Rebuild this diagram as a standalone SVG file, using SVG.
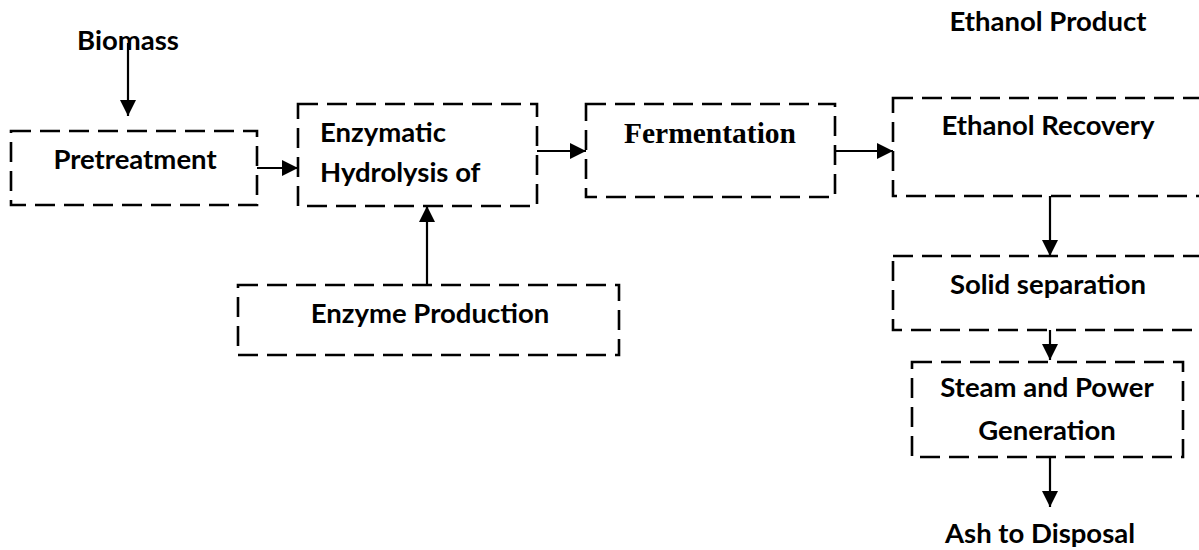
<svg xmlns="http://www.w3.org/2000/svg" width="1199" height="550" viewBox="0 0 1199 550">
<style>
.box{fill:none;stroke:#000;stroke-width:2.6;stroke-dasharray:20 9}
.t{font-family:Lato,"Liberation Sans",sans-serif;font-weight:bold;font-size:27.5px;fill:#000}
.c{text-anchor:middle}
.s{font-family:"Liberation Serif",serif;font-weight:bold;font-size:29.5px;fill:#000}
.ln{fill:none;stroke:#000;stroke-width:2.2}
</style>
<defs>
<marker id="ah" viewBox="0 0 16 16" refX="16" refY="8" markerWidth="16" markerHeight="16" markerUnits="userSpaceOnUse" orient="auto">
<path d="M0,0 L16,8 L0,16 Z" fill="#000"/>
</marker>
</defs>
<rect width="1199" height="550" fill="#fff"/>
<g id="labels">
<text class="t c" x="128" y="50">Biomass</text>
<text class="t c" x="1048" y="31">Ethanol Product</text>
<text class="t c" x="1040" y="543">Ash to Disposal</text>
</g>
<g id="pretreatment">
<rect class="box" x="11" y="131" width="246" height="74"/>
<text class="t c" x="135" y="169">Pretreatment</text>
</g>
<g id="hydrolysis">
<rect class="box" x="298" y="104" width="239" height="102"/>
<text class="t" x="320" y="142">Enzymatic</text>
<text class="t" x="320" y="182">Hydrolysis of</text>
</g>
<g id="fermentation">
<rect class="box" x="586" y="104" width="249" height="93"/>
<text class="s c" x="710" y="143">Fermentation</text>
</g>
<g id="recovery">
<rect class="box" x="893" y="98" width="330" height="98"/>
<text class="t c" x="1048" y="135">Ethanol Recovery</text>
</g>
<g id="enzyme">
<rect class="box" x="238" y="285" width="381" height="70"/>
<text class="t c" x="430" y="323">Enzyme Production</text>
</g>
<g id="solid">
<rect class="box" x="893" y="256" width="330" height="74"/>
<text class="t c" x="1048" y="294">Solid separation</text>
</g>
<g id="steam">
<rect class="box" x="912" y="362" width="271" height="95"/>
<text class="t c" x="1047" y="397">Steam and Power</text>
<text class="t c" x="1047" y="440">Generation</text>
</g>
<g id="connectors">
<line class="ln" x1="128" y1="43" x2="128" y2="116" marker-end="url(#ah)"/>
<line class="ln" x1="257" y1="168" x2="298" y2="168" marker-end="url(#ah)"/>
<line class="ln" x1="537" y1="151" x2="586" y2="151" marker-end="url(#ah)"/>
<line class="ln" x1="835" y1="151" x2="893" y2="151" marker-end="url(#ah)"/>
<line class="ln" x1="427" y1="285" x2="427" y2="206" marker-end="url(#ah)"/>
<line class="ln" x1="1050" y1="196" x2="1050" y2="256" marker-end="url(#ah)"/>
<line class="ln" x1="1050" y1="330" x2="1050" y2="360" marker-end="url(#ah)"/>
<line class="ln" x1="1050" y1="457" x2="1050" y2="507" marker-end="url(#ah)"/>
</g>
</svg>
